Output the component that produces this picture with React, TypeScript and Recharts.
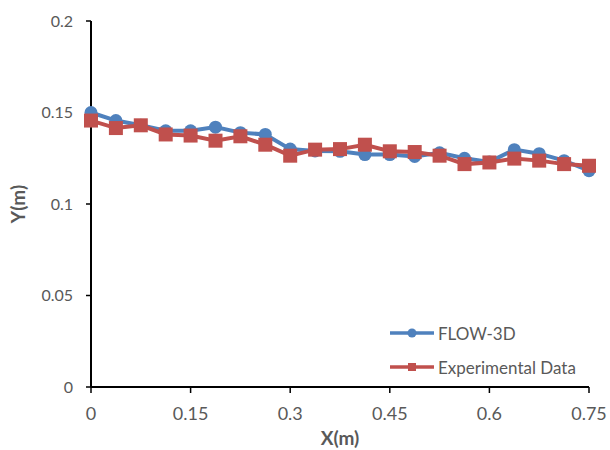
import { Legend, Line, LineChart, XAxis, YAxis } from 'recharts';

const xValues = [
    0, 0.0375, 0.075, 0.1125, 0.15, 0.1875, 0.225, 0.2625, 0.3, 0.3375, 0.375,
    0.4125, 0.45, 0.4875, 0.525, 0.5625, 0.6, 0.6375, 0.675, 0.7125, 0.75,
];
const flow3d = [
    0.150, 0.1456, 0.143, 0.140, 0.140, 0.142, 0.139, 0.138, 0.130, 0.129, 0.1288,
    0.127, 0.127, 0.126, 0.128, 0.125, 0.123, 0.1297, 0.1275, 0.1237, 0.1182,
];
const experimental = [
    0.1456, 0.1415, 0.143, 0.138, 0.1374, 0.1346, 0.137, 0.1324, 0.1264, 0.1297, 0.130,
    0.1324, 0.1288, 0.1284, 0.1264, 0.1218, 0.1227, 0.1248, 0.1237, 0.1218, 0.1209,
];
const xTicks = [0, 0.15, 0.3, 0.45, 0.6, 0.75];
const yTicks = [0, 0.05, 0.1, 0.15, 0.2];
const legendOrder = ['flow', 'exp'];

const BLUE = '#4F81BD';
const RED = '#C0504D';
const TEXT = '#595959';
const FONT = 'Lato, "Open Sans", sans-serif';

const data = xValues.map((x, i) => ({ x, flow: flow3d[i], exp: experimental[i] }));

function SquareDot(props: any) {
    const { cx, cy, index } = props;
    if (cx == null || cy == null) return null;
    return <rect key={`sq-${index}`} x={cx - 7} y={cy - 7} width={14} height={14} fill={RED} />;
}

function YTitle(props: any) {
    const vb = props.viewBox;
    const x = vb.x + 25;
    const y = vb.y + vb.height / 2;
    return (
        <text
            x={x}
            y={y}
            transform={`rotate(-90, ${x}, ${y})`}
            textAnchor="middle"
            fill={TEXT}
            fontSize={19}
            fontWeight="bold"
            fontFamily={FONT}
        >
            Y(m)
        </text>
    );
}

function LegendBox(props: any) {
    const items = [...(props.payload || [])].sort(
        (a: any, b: any) => legendOrder.indexOf(a.dataKey) - legendOrder.indexOf(b.dataKey)
    );
    return (
        <div style={{ fontFamily: FONT, fontSize: 17, color: TEXT }}>
            {items.map((item: any) => {
                const isFlow = item.dataKey === 'flow';
                const color = isFlow ? BLUE : RED;
                return (
                    <div key={item.dataKey} style={{ display: 'flex', alignItems: 'center', height: 34 }}>
                        <svg width={44} height={14} style={{ marginRight: 4 }}>
                            <line x1={0} y1={7} x2={44} y2={7} stroke={color} strokeWidth={3.5} />
                            {isFlow ? (
                                <circle cx={22} cy={7} r={4.5} fill={color} />
                            ) : (
                                <rect x={18} y={3} width={8} height={8} fill={color} />
                            )}
                        </svg>
                        <span>{item.value}</span>
                    </div>
                );
            })}
        </div>
    );
}

export default function App() {
    return (
        <div style={{ position: 'absolute', left: 0, top: 0, width: 610, height: 450, background: '#fff' }}>
            <LineChart width={610} height={450} data={data} margin={{ top: 21, right: 21, bottom: 0, left: 0 }}>
                <XAxis
                    type="number"
                    dataKey="x"
                    domain={[0, 0.75]}
                    ticks={xTicks}
                    height={63}
                    tickSize={6}
                    tickMargin={14}
                    axisLine={{ stroke: '#000', strokeWidth: 2 }}
                    tickLine={{ stroke: '#000', strokeWidth: 1.5 }}
                    tick={{ fill: TEXT, fontSize: 18, fontFamily: FONT }}
                    label={{
                        value: 'X(m)',
                        position: 'insideBottom',
                        offset: 5,
                        fill: TEXT,
                        fontSize: 19,
                        fontWeight: 'bold',
                        fontFamily: FONT,
                    }}
                />
                <YAxis
                    type="number"
                    domain={[0, 0.2]}
                    ticks={yTicks}
                    width={91}
                    tickSize={5}
                    tickMargin={13}
                    axisLine={{ stroke: '#000', strokeWidth: 2 }}
                    tickLine={{ stroke: '#000', strokeWidth: 1.5 }}
                    tick={{ fill: TEXT, fontSize: 16, fontFamily: FONT }}
                    label={{ content: YTitle }}
                />
                <Legend
                    layout="vertical"
                    align="center"
                    verticalAlign="middle"
                    content={LegendBox}
                    wrapperStyle={{ left: 390, top: 316, width: 200, height: 68 }}
                />
                <Line
                    type="linear"
                    dataKey="flow"
                    name="FLOW-3D"
                    stroke={BLUE}
                    strokeWidth={4}
                    dot={{ r: 6.5, fill: BLUE, stroke: 'none' }}
                    activeDot={false}
                    isAnimationActive={false}
                />
                <Line
                    type="linear"
                    dataKey="exp"
                    name="Experimental Data"
                    stroke={RED}
                    strokeWidth={4}
                    dot={SquareDot}
                    activeDot={false}
                    isAnimationActive={false}
                />
            </LineChart>
        </div>
    );
}
